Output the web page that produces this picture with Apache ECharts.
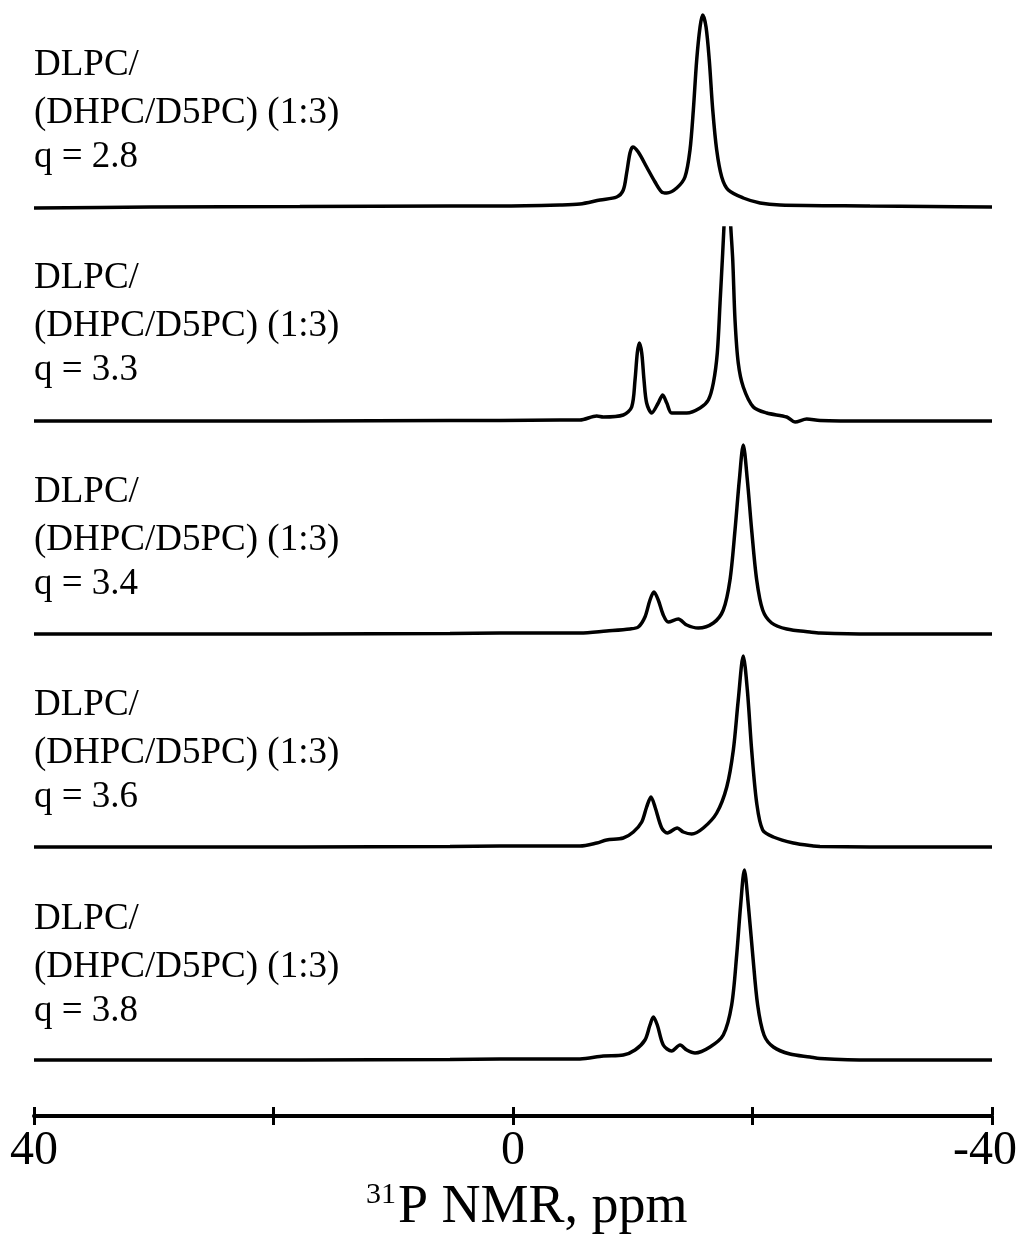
<!DOCTYPE html>
<html>
<head>
<meta charset="utf-8">
<script src="https://cdn.jsdelivr.net/npm/echarts@6/dist/echarts.min.js"></script>
<style>
html,body{margin:0;padding:0;background:#fff;}
#chart{width:1019px;height:1240px;}
</style>
</head>
<body>
<div id="chart"></div>
<script>
// Sample labels
const sampleLine1 = 'DLPC/';
const sampleLine2 = '(DHPC/D5PC) (1:3)';
const qValues = ['2.8', '3.3', '3.4', '3.6', '3.8'];

// Axis
const axisTitleSup = '31';
const axisTitleMain = 'P NMR, ppm';
const tickLabels = [40, 0, -40];

// Spectrum q = 2.8 : chemical shift (ppm) and intensity (a.u.)
const shifts1 = [40.0, 30.3, 17.8, 5.26, 1.09, -3.92, -5.59, -7.27, -8.66, -9.21, -9.49, -9.77, -10.0, -10.46, -11.16, -11.86, -12.42, -12.84, -13.67, -14.36, -14.78, -15.06, -15.34, -15.62, -15.84, -16.12, -16.39, -16.68, -17.01, -17.43, -17.98, -19.23, -20.63, -22.30, -29.81, -34.82, -40.0];
const intens1 = [-1, 0, 0.5, 1, 1, 2, 3, 7, 10, 17, 34, 54, 60, 55, 40, 25, 15, 14, 19, 30, 57, 97, 147, 180, 192, 180, 147, 97, 57, 30, 17, 9, 4, 2, 1, 0.5, 0];

// Spectrum q = 3.3 (main peak exceeds panel and is cut off)
const shifts2 = [40.0, 30.3, 17.8, 5.26, 1.09, -3.92, -5.59, -6.99, -7.54, -9.21, -9.91, -10.19, -10.38, -10.55, -10.75, -10.94, -11.16, -11.58, -12.13, -12.50, -12.84, -13.25, -14.51, -15.62, -16.31, -16.73, -17.06, -17.29, -17.51, -17.62, -17.90, -18.18, -18.35, -18.54, -18.81, -19.23, -20.07, -21.19, -22.86, -23.55, -24.53, -25.64, -29.81, -34.82, -40.0];
const intens2 = [0, 0, 0, 0.5, 0.5, 1, 1, 5, 4, 6, 14, 41, 68, 78, 68, 41, 18, 8, 18, 26, 18, 8, 8, 13, 21, 38, 68, 118, 168, 195, 260, 195, 161, 101, 58, 34, 14, 8, 4, -1, 2, 0.5, 0, 0, 0];

// Spectrum q = 3.4
const shifts3 = [40.0, 30.3, 17.8, 5.26, 1.09, -3.92, -5.59, -7.82, -9.77, -10.46, -11.02, -11.44, -11.77, -12.13, -12.55, -12.97, -13.80, -14.51, -15.47, -16.73, -17.56, -18.12, -18.54, -18.90, -19.23, -19.57, -19.93, -20.35, -20.85, -21.60, -22.86, -24.80, -25.64, -29.81, -40.0];
const intens3 = [0, 0, 0, 0.5, 1, 1, 1, 3, 5, 7, 17, 34, 42, 34, 19, 12, 15, 9, 6, 11, 24, 54, 104, 154, 189, 154, 104, 54, 24, 11, 5, 2, 1, 0, 0];

// Spectrum q = 3.6
const shifts4 = [40.0, 30.3, 17.8, 5.26, 1.09, -3.92, -5.59, -6.99, -7.82, -9.21, -10.05, -10.75, -11.16, -11.52, -11.86, -12.42, -12.89, -13.72, -14.22, -14.92, -15.89, -17.01, -17.85, -18.40, -18.81, -19.23, -19.57, -19.93, -20.35, -20.85, -21.74, -23.41, -25.08, -25.64, -29.81, -40.0];
const intens4 = [0, 0, 0, 0.5, 1, 1, 1, 4, 7, 9, 15, 25, 40, 50, 40, 19, 14, 19, 15, 13, 19, 34, 60, 97, 147, 191, 157, 97, 44, 17, 10, 4, 1, 0.5, 0, 0];

// Spectrum q = 3.8
const shifts5 = [40.0, 30.3, 17.8, 5.26, 1.09, -3.92, -5.59, -7.54, -9.21, -10.19, -11.02, -11.44, -11.72, -12.05, -12.55, -13.25, -13.95, -14.51, -15.20, -16.45, -17.56, -18.26, -18.68, -19.01, -19.32, -19.65, -20.02, -20.43, -20.96, -21.74, -23.13, -24.80, -25.64, -29.81, -40.0];
const intens5 = [0, 0, 0, 0.5, 1, 1, 1, 4, 5, 10, 20, 35, 43, 35, 15, 9, 15, 10, 7, 13, 25, 55, 105, 155, 190, 155, 105, 55, 25, 13, 6, 3, 1.5, 0, 0];

const spectra = [
  [shifts1, intens1],
  [shifts2, intens2],
  [shifts3, intens3],
  [shifts4, intens4],
  [shifts5, intens5]
];

// ---------- layout ----------
const FONT = '"Liberation Serif", "Times New Roman", serif';
const gridLeft = 34, gridRight = 27;
const baselines = [207, 421, 634, 847, 1060];
const panelMax = [200, 193, 200, 200, 200];
const yMin = -10;
const panelStep = 213.5;
const textRows = [65, 113, 157];

const grids = [], xAxes = [], yAxes = [], series = [], graphics = [];
spectra.forEach((sp, i) => {
  const top = baselines[i] - panelMax[i];
  grids.push({left: gridLeft, right: gridRight, top: top, height: panelMax[i] - yMin, outerBoundsMode: 'none', containLabel: false});
  xAxes.push({gridIndex: i, type: 'value', min: -40, max: 40, inverse: true, show: false});
  yAxes.push({gridIndex: i, type: 'value', min: yMin, max: panelMax[i], show: false});
  series.push({
    type: 'line', xAxisIndex: i, yAxisIndex: i,
    data: sp[0].map((x, k) => [x, sp[1][k]]),
    showSymbol: false, symbol: 'none', smooth: 0.3, clip: true,
    lineStyle: {color: '#000', width: 3.5}, silent: true
  });
  const off = i * panelStep;
  const texts = [sampleLine1, sampleLine2, 'q = ' + qValues[i]];
  texts.forEach((t, r) => {
    graphics.push({type: 'text', x: 34, y: textRows[r] + off, silent: true,
      style: {text: t, font: '37px ' + FONT, fill: '#000', verticalAlign: 'middle', align: 'left'}});
  });
});

// bottom axis grid
const axisY = 1116;
const ai = spectra.length;
grids.push({left: gridLeft, right: gridRight, top: axisY - 1, height: 1, outerBoundsMode: 'none', containLabel: false});
xAxes.push({
  gridIndex: ai, type: 'value', min: -40, max: 40, interval: 20, inverse: true, position: 'bottom',
  axisLine: {show: true, lineStyle: {color: '#000', width: 4}},
  axisTick: {show: true, length: 9, lineStyle: {color: '#000', width: 3}},
  splitLine: {show: false},
  axisLabel: {show: true, margin: 11, color: '#000', fontFamily: FONT, fontSize: 48,
    formatter: v => tickLabels.indexOf(v) >= 0 ? (v < 0 ? '{edge|' + v + '}' : String(v)) : '',
    rich: {edge: {fontFamily: FONT, fontSize: 48, color: '#000', padding: [0, 14, 0, 0]}}}
});
xAxes.push({
  gridIndex: ai, type: 'value', min: -40, max: 40, interval: 20, inverse: true, position: 'top',
  axisLine: {show: false},
  axisTick: {show: true, length: 8, lineStyle: {color: '#000', width: 3}},
  splitLine: {show: false},
  axisLabel: {show: false}
});
yAxes.push({gridIndex: ai, type: 'value', min: 0, max: 1, show: false});

graphics.push({type: 'text', x: 366, y: 1195, silent: true,
  style: {text: axisTitleSup, font: '30px ' + FONT, fill: '#000', verticalAlign: 'middle', align: 'left'}});
graphics.push({type: 'text', x: 398, y: 1208, silent: true,
  style: {text: axisTitleMain, font: '54px ' + FONT, fill: '#000', verticalAlign: 'middle', align: 'left'}});

const chart = echarts.init(document.getElementById('chart'), null, {renderer: 'canvas'});
chart.setOption({
  animation: false,
  backgroundColor: '#fff',
  grid: grids,
  xAxis: xAxes,
  yAxis: yAxes,
  series: series,
  graphic: graphics
});
</script>
</body>
</html>
